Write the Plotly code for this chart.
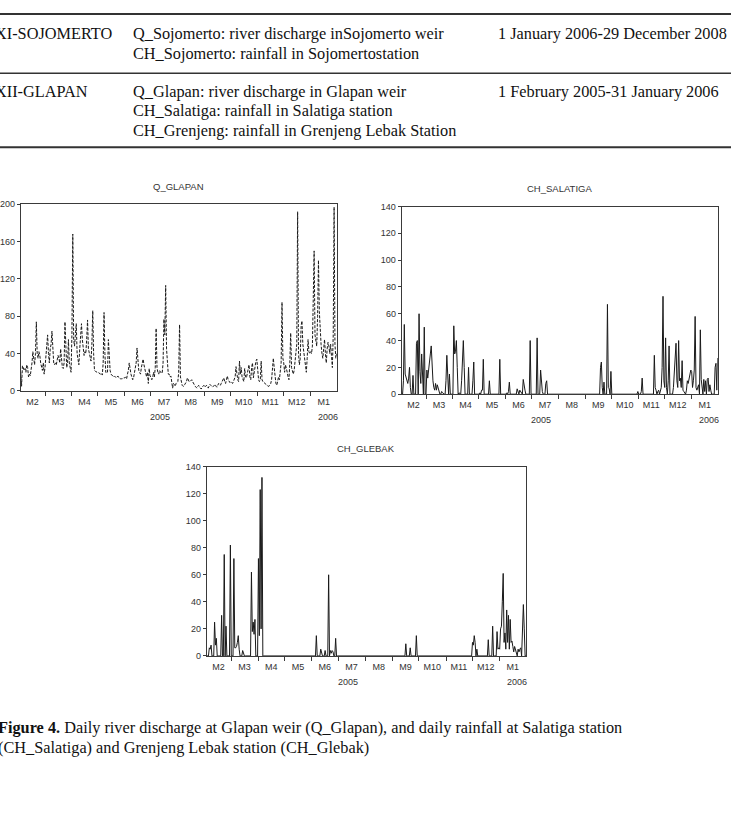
import plotly.graph_objects as go
import pandas as pd

W, H = 731, 818

# ---------------- data ----------------
month_labels = ["M2", "M3", "M4", "M5", "M6", "M7", "M8", "M9", "M10", "M11", "M12", "M1"]
year_labels = ["2005", "2006"]
dates = pd.date_range("2005-02-01", "2006-01-31", freq="D")

# Q_GLAPAN: daily river discharge at Glapan weir (per month, Feb 2005 .. Jan 2006)
q_feb = [20, 5, 27, 25, 22, 24, 20, 28, 25, 15, 18, 16, 22, 30, 42, 35, 28, 40, 74, 40, 35, 42, 38, 30, 25, 22, 30, 18]
q_mar = [25, 35, 45, 60, 40, 30, 45, 50, 64, 35, 30, 28, 30, 28, 32, 38, 35, 30, 45, 32, 25, 24, 30, 74, 40, 25, 30, 55, 30, 25, 20]
q_apr = [60, 168, 55, 48, 60, 72, 40, 30, 28, 45, 60, 72, 55, 40, 38, 42, 40, 55, 76, 45, 40, 35, 32, 50, 86, 40, 22, 21, 20, 20]
q_may = [20, 19, 18, 18, 19, 17, 30, 84, 40, 20, 19, 20, 55, 30, 22, 18, 17, 16, 15, 16, 15, 14, 15, 16, 14, 13, 13, 13, 13, 14, 14]
q_jun = [14, 15, 13, 18, 22, 30, 22, 18, 15, 12, 14, 20, 25, 30, 46, 25, 22, 20, 18, 25, 30, 34, 28, 22, 18, 15, 20, 8, 24, 16]
q_jul = [15, 12, 14, 20, 15, 25, 67, 25, 20, 18, 22, 20, 20, 19, 30, 77, 60, 113, 45, 22, 18, 18, 15, 16, 5, 3, 8, 6, 5, 8, 9]
q_aug = [10, 20, 71, 15, 8, 6, 5, 5, 7, 8, 10, 14, 12, 10, 10, 11, 12, 10, 8, 6, 5, 4, 3, 5, 6, 4, 3, 2, 4, 5, 6]
q_sep = [4, 5, 6, 4, 3, 5, 7, 6, 5, 4, 5, 6, 7, 5, 4, 6, 8, 7, 6, 8, 10, 12, 14, 10, 8, 12, 16, 12, 10, 9]
q_oct = [10, 9, 8, 10, 12, 15, 26, 15, 12, 10, 32, 18, 25, 15, 12, 10, 24, 15, 14, 20, 22, 28, 15, 12, 25, 30, 14, 22, 26, 32, 34]
q_nov = [20, 12, 10, 12, 32, 12, 10, 9, 8, 7, 6, 6, 5, 5, 6, 8, 12, 30, 35, 25, 12, 8, 6, 10, 15, 12, 20, 30, 95, 35]
q_dec = [30, 20, 28, 25, 20, 15, 12, 30, 62, 25, 20, 18, 22, 30, 40, 50, 192, 40, 28, 35, 70, 75, 50, 42, 30, 22, 20, 35, 55, 42, 40]
q_jan = [42, 40, 48, 100, 150, 60, 50, 48, 80, 140, 85, 60, 50, 40, 35, 45, 55, 40, 30, 45, 52, 48, 40, 50, 35, 25, 60, 197, 50, 35, 40]

# CH_SALATIGA: daily rainfall at Salatiga station
s_feb = [0, 0, 10, 52, 15, 12, 10, 8, 12, 20, 5, 0, 0, 14, 0, 0, 0, 38, 40, 0, 60, 17, 8, 30, 10, 0, 50, 0]
s_mar = [0, 18, 12, 20, 25, 30, 36, 20, 10, 5, 3, 8, 3, 7, 5, 3, 0, 0, 2, 1, 0, 0, 0, 10, 29, 10, 0, 15, 0, 0, 0]
s_apr = [0, 51, 30, 32, 40, 20, 0, 1, 0, 0, 10, 30, 40, 20, 0, 0, 0, 0, 20, 0, 0, 0, 0, 10, 24, 0, 0, 0, 0, 0]
s_may = [0, 1, 0, 3, 3, 26, 0, 0, 0, 0, 0, 0, 10, 0, 0, 0, 0, 0, 0, 0, 0, 0, 0, 0, 26, 0, 0, 0, 0, 0, 0]
s_jun = [0, 1, 0, 2, 9, 0, 0, 0, 0, 0, 0, 0, 0, 4, 1, 0, 3, 2, 0, 0, 11, 5, 3, 0, 0, 0, 0, 0, 40, 0]
s_jul = [0, 0, 0, 0, 0, 0, 42, 0, 0, 0, 18, 5, 2, 0, 0, 0, 8, 10, 0, 0, 0, 0, 0, 0, 0, 0, 0, 0, 0, 0, 0]
s_aug = [0, 0, 0, 0, 0, 0, 0, 0, 0, 0, 0, 0, 0, 0, 0, 0, 0, 0, 0, 0, 0, 0, 0, 0, 0, 0, 0, 0, 0, 0, 0]
s_sep = [0, 0, 0, 0, 0, 0, 0, 0, 0, 0, 0, 0, 0, 0, 0, 0, 0, 20, 24, 5, 0, 9, 0, 0, 0, 67, 5, 4, 0, 17]
s_oct = [0, 0, 0, 0, 0, 0, 0, 0, 0, 0, 0, 0, 0, 0, 0, 0, 0, 0, 0, 0, 0, 0, 0, 0, 0, 0, 0, 0, 0, 0, 2]
s_nov = [0, 0, 0, 2, 12, 0, 0, 0, 0, 0, 0, 0, 0, 0, 0, 0, 0, 0, 29, 5, 3, 0, 2, 3, 0, 3, 5, 20, 73, 10]
s_dec = [5, 42, 5, 0, 10, 36, 0, 0, 0, 0, 5, 20, 30, 38, 10, 5, 40, 10, 12, 5, 25, 3, 2, 1, 0, 3, 10, 8, 12, 15, 18]
s_jan = [17, 5, 10, 18, 58, 5, 3, 6, 7, 0, 48, 11, 3, 0, 11, 2, 10, 0, 11, 12, 2, 7, 3, 0, 0, 0, 0, 20, 23, 3, 27]

# CH_GLEBAK: daily rainfall at Grenjeng Lebak station
g_feb = [0, 0, 0, 6, 5, 8, 0, 0, 0, 25, 8, 13, 0, 0, 0, 0, 0, 30, 0, 0, 75, 0, 22, 0, 0, 0, 0, 82]
g_mar = [0, 0, 0, 72, 6, 6, 7, 10, 15, 5, 0, 0, 0, 4, 2, 0, 0, 0, 0, 0, 0, 0, 0, 62, 18, 25, 16, 27, 0, 0, 0]
g_apr = [72, 15, 123, 20, 132, 0, 0, 0, 0, 0, 0, 0, 0, 0, 0, 0, 0, 0, 0, 0, 0, 0, 0, 0, 0, 0, 0, 0, 0, 0]
g_may = [0, 0, 0, 0, 0, 0, 0, 0, 0, 0, 0, 0, 0, 0, 0, 0, 0, 0, 0, 0, 0, 0, 0, 0, 0, 0, 0, 0, 0, 0, 0]
g_jun = [0, 0, 0, 0, 0, 15, 0, 0, 0, 0, 5, 1, 0, 0, 0, 4, 0, 0, 0, 60, 0, 4, 2, 4, 3, 0, 0, 13, 0, 0]
g_jul = [0, 0, 0, 0, 0, 0, 0, 0, 0, 0, 0, 0, 0, 0, 0, 0, 0, 0, 0, 0, 0, 0, 0, 0, 0, 0, 0, 0, 0, 0, 0]
g_aug = [0, 0, 0, 0, 0, 0, 0, 0, 0, 0, 0, 0, 0, 0, 0, 0, 0, 0, 0, 0, 0, 0, 0, 0, 0, 0, 0, 0, 0, 0, 0]
g_sep = [0, 0, 0, 0, 0, 0, 0, 0, 0, 0, 0, 0, 0, 0, 0, 9, 0, 0, 0, 0, 6, 0, 0, 0, 0, 0, 0, 15, 0, 0]
g_oct = [0, 0, 0, 0, 0, 0, 0, 0, 0, 0, 0, 0, 0, 0, 0, 0, 0, 0, 0, 0, 0, 0, 0, 0, 0, 0, 0, 0, 0, 0, 0]
g_nov = [0, 0, 0, 0, 0, 0, 0, 0, 0, 0, 0, 0, 0, 0, 0, 0, 0, 0, 0, 0, 0, 0, 0, 0, 0, 0, 0, 0, 0, 0]
g_dec = [10, 8, 15, 10, 0, 5, 0, 0, 0, 0, 0, 0, 0, 0, 0, 0, 0, 0, 12, 0, 0, 0, 0, 22, 0, 0, 0, 0, 18, 5, 6]
g_jan = [5, 20, 22, 40, 61, 10, 17, 5, 34, 10, 30, 5, 27, 10, 11, 7, 3, 7, 5, 2, 0, 5, 3, 5, 6, 0, 20, 38, 20, 0, 0]

q_glapan = q_feb + q_mar + q_apr + q_may + q_jun + q_jul + q_aug + q_sep + q_oct + q_nov + q_dec + q_jan
ch_salatiga = s_feb + s_mar + s_apr + s_may + s_jun + s_jul + s_aug + s_sep + s_oct + s_nov + s_dec + s_jan
ch_glebak = g_feb + g_mar + g_apr + g_may + g_jun + g_jul + g_aug + g_sep + g_oct + g_nov + g_dec + g_jan

table_rows = [
    ("XI-SOJOMERTO",
     ["Q_Sojomerto: river discharge inSojomerto weir", "CH_Sojomerto: rainfall in Sojomertostation"],
     "1 January 2006-29 December 2008"),
    ("XII-GLAPAN",
     ["Q_Glapan: river discharge in Glapan weir", "CH_Salatiga: rainfall in Salatiga station",
      "CH_Grenjeng: rainfall in Grenjeng Lebak Station"],
     "1 February 2005-31 January 2006"),
]
caption_lines = [
    "<b>Figure 4.</b> Daily river discharge at Glapan weir (Q_Glapan), and daily rainfall at Salatiga station",
    "(CH_Salatiga) and Grenjeng Lebak station (CH_Glebak)",
]

# ---------------- helpers ----------------
def px(x):
    return x / W

def py(y):
    return 1 - y / H

month_starts = pd.date_range("2005-02-01", "2006-01-01", freq="MS")
month_centers = [ms + pd.Timedelta(hours=12 * ms.days_in_month) - pd.Timedelta(hours=12) for ms in month_starts]
center_str = [d.strftime("%Y-%m-%d %H:%M") for d in month_centers]
boundary_str = [d.strftime("%Y-%m-%d") for d in month_starts[1:]]
x_range = [dates[0].strftime("%Y-%m-%d"), dates[-1].strftime("%Y-%m-%d")]
year_pos = ["2005-07-12", "2006-01-21"]

AXC = "#3a3a3a"
TICKF = dict(family="Liberation Sans, Arial, sans-serif", size=9, color="#333333")
SERIF = "Liberation Serif, Times New Roman, serif"
TXT = dict(family=SERIF, size=16.3, color="#111111")

# panels: (title, values, ymax, dtick, left, right, top, bottom, dashed)
panels = [
    ("Q_GLAPAN", q_glapan, 200, 40, 20.7, 336.7, 201.7, 390.7, True),
    ("CH_SALATIGA", ch_salatiga, 140, 20, 401.7, 717.7, 204.0, 394.0, False),
    ("CH_GLEBAK", ch_glebak, 140, 20, 206.7, 526.0, 467.3, 659.0, False),
]

fig = go.Figure()
annotations = []
layout_axes = {}

for i, (title, vals, ymax, dt, L, R, T, B, dashed) in enumerate(panels, start=1):
    xa = "x" if i == 1 else f"x{i}"
    ya = "y" if i == 1 else f"y{i}"
    fig.add_trace(go.Scatter(
        x=dates, y=vals, mode="lines", xaxis=xa, yaxis=ya, showlegend=False,
        line=dict(color="#1a1a1a", width=1, dash="3px,1.5px" if dashed else "solid"),
        hoverinfo="skip",
    ))
    layout_axes["xaxis" if i == 1 else f"xaxis{i}"] = dict(
        domain=[px(L), px(R)], anchor=ya, type="date", range=x_range,
        tickmode="array", tickvals=center_str, ticktext=month_labels, ticks="",
        showline=True, mirror=True, linecolor=AXC, linewidth=1,
        showgrid=False, zeroline=False, tickfont=TICKF, ticklabelstandoff=2,
        minor=dict(tickmode="array", tickvals=boundary_str, ticks="outside",
                   ticklen=4, tickcolor=AXC, tickwidth=1, showgrid=False),
        fixedrange=True,
    )
    layout_axes["yaxis" if i == 1 else f"yaxis{i}"] = dict(
        domain=[py(B), py(T)], anchor=xa, range=[0, ymax], dtick=dt, tick0=0,
        ticks="outside", ticklen=3, tickcolor=AXC, tickwidth=1,
        showline=True, mirror=True, linecolor=AXC, linewidth=1,
        showgrid=False, zeroline=False, tickfont=TICKF, fixedrange=True,
    )
    annotations.append(dict(
        text=title, xref="paper", yref="paper", x=px((L + R) / 2), y=py(T - 18),
        xanchor="center", yanchor="middle", showarrow=False,
        font=dict(family="Liberation Sans, Arial, sans-serif", size=9.5, color="#333333"),
    ))
    for yl, xp in zip(year_labels, year_pos):
        annotations.append(dict(
            text=yl, xref=xa, yref="paper", x=xp, y=py(B + 26),
            xanchor="center", yanchor="middle", showarrow=False, font=TICKF,
        ))

# table text
row_tops = [29.3, 87.3]
line_gap = 20.0
for (c1, c2lines, c3), ytop in zip(table_rows, row_tops):
    annotations.append(dict(text=c1, xref="paper", yref="paper", x=px(-7), y=py(ytop),
                            xanchor="left", yanchor="middle", showarrow=False, font=TXT))
    for k, t in enumerate(c2lines):
        annotations.append(dict(text=t, xref="paper", yref="paper", x=px(131), y=py(ytop + k * line_gap),
                                xanchor="left", yanchor="middle", showarrow=False, font=TXT))
    annotations.append(dict(text=c3, xref="paper", yref="paper", x=px(496), y=py(ytop),
                            xanchor="left", yanchor="middle", showarrow=False, font=TXT))

# caption
for k, t in enumerate(caption_lines):
    annotations.append(dict(text=t, xref="paper", yref="paper", x=px(-4), y=py(731 + k * 21),
                            xanchor="left", yanchor="middle", showarrow=False, font=TXT))

shapes = [
    dict(type="line", xref="paper", yref="paper", x0=0, x1=1, y0=py(9), y1=py(9),
         line=dict(color="#333333", width=2)),
    dict(type="line", xref="paper", yref="paper", x0=0, x1=1, y0=py(69), y1=py(69),
         line=dict(color="#333333", width=1.5)),
    dict(type="line", xref="paper", yref="paper", x0=0, x1=1, y0=py(144), y1=py(144),
         line=dict(color="#333333", width=2)),
]

fig.update_layout(
    width=W, height=H, margin=dict(l=0, r=0, t=0, b=0),
    paper_bgcolor="white", plot_bgcolor="white",
    annotations=annotations, shapes=shapes, showlegend=False,
    **layout_axes,
)

fig.write_html("out.html", config={"displayModeBar": False})
